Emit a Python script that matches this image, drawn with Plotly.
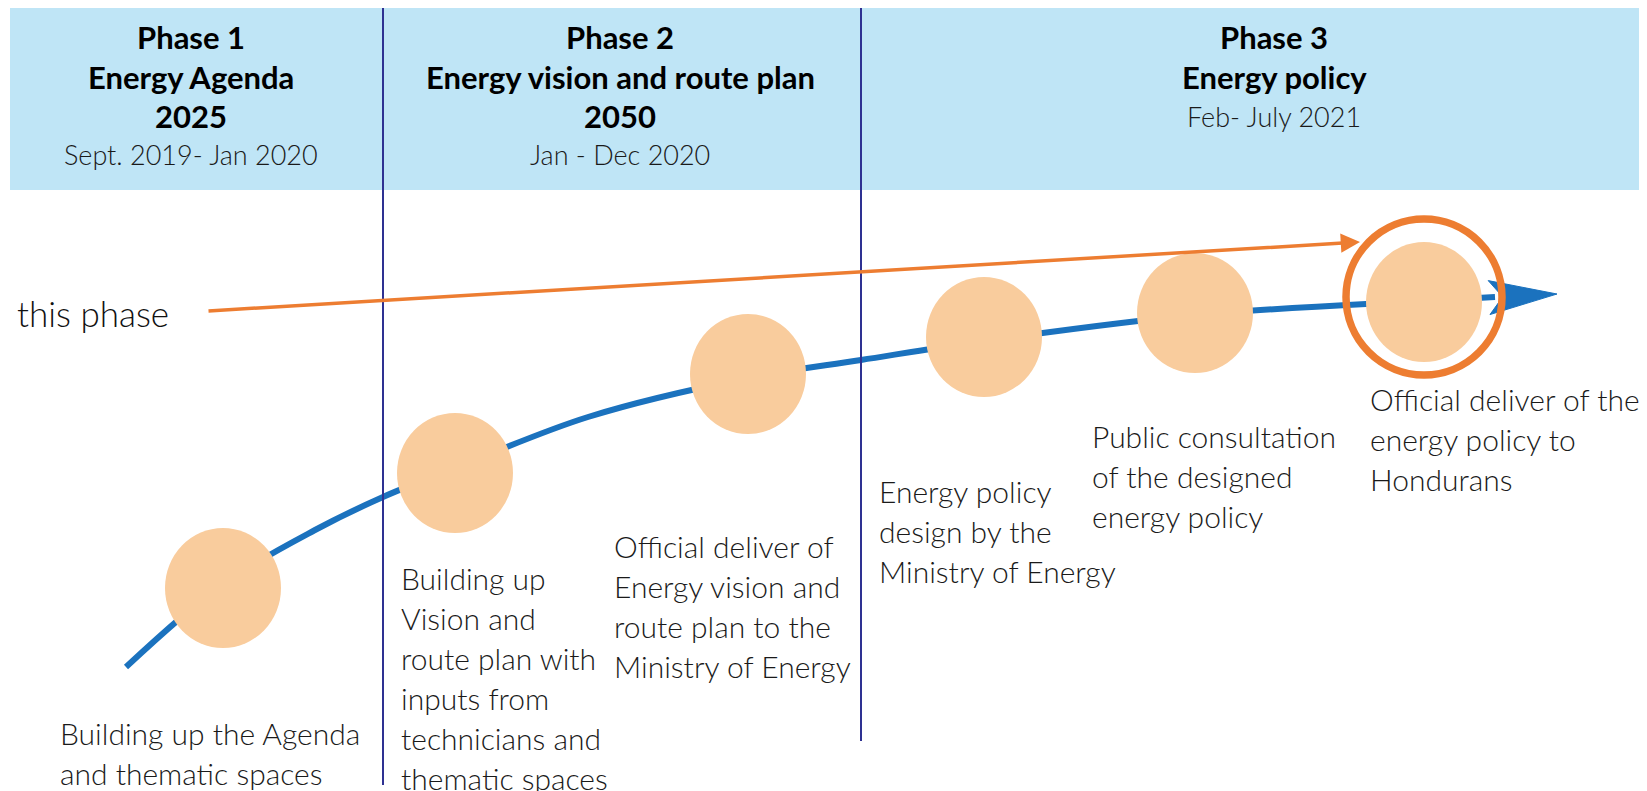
import numpy as np
import plotly.graph_objects as go

W, H = 1647, 791
OFF = 8  # page body margin in the browser

# ---------------- data ----------------
phase_titles = ["Phase 1", "Phase 2", "Phase 3"]
phase_names = [["Energy Agenda", "2025"], ["Energy vision and route plan", "2050"], ["Energy policy"]]
phase_dates = ["Sept. 2019- Jan 2020", "Jan - Dec 2020", "Feb- July 2021"]

milestone_labels = [
    "Building up the Agenda\nand thematic spaces",
    "Building up\nVision and\nroute plan with\ninputs from\ntechnicians and\nthematic spaces",
    "Official deliver of\nEnergy vision and\nroute plan to the\nMinistry of Energy",
    "Energy policy\ndesign by the\nMinistry of Energy",
    "Public consultation\nof the designed\nenergy policy",
    "Official deliver of the\nenergy policy to\nHondurans",
]
milestone_x = [223, 455, 748, 984, 1195, 1424]
milestone_y = [588, 473, 374, 337, 313, 302]
label_x = [58, 399, 612, 877, 1090, 1368]
label_y = [733, 578, 546, 491, 436, 399]

curve_x = [126, 223, 315, 383, 455, 588, 748, 861, 984, 1195, 1424, 1495]
curve_y = [667, 584, 530, 497, 468, 417, 378, 360, 341, 315, 301, 297]
curve_tip = (1557, 294)

current_phase_text = "this phase"
current_from = (207, 311)
current_to = (1360, 242)
current_index = 5

phase_dividers = [383, 861]
divider_ends = [785, 741]
header_x = [191, 620, 1274]

# ---------------- style ----------------
BAND = "#BFE5F6"
NAVY = "#2E3192"
BLUE = "#1B72BE"
ORANGE = "#ED7D31"
PEACH = "#F9CC9D"
FONT = "Lato"
RX, RY = 58, 60
RING_R = 78
RING_DY = -5
LINE_H = 40
HEAD_Y = [37, 77, 116, 154]

fig = go.Figure()

# header band
fig.add_shape(type="rect", x0=10, x1=W + OFF, y0=7, y1=190, fillcolor=BAND, line_width=0, layer="below")

# blue progress curve
fig.add_trace(go.Scatter(x=curve_x, y=curve_y, mode="lines",
                         line=dict(color=BLUE, width=6, shape="spline", smoothing=1.0),
                         hoverinfo="skip", showlegend=False))
# arrow head for blue curve (computed from the curve end)
tip = np.array(curve_tip, dtype=float)
d = tip - np.array([curve_x[-2], curve_y[-2]], dtype=float)
u = d / np.linalg.norm(d)
n = np.array([-u[1], u[0]])
L, Wd = 68, 17
pts = [tip, tip - L * u + Wd * n, tip - 0.8 * L * u, tip - L * u - Wd * n, tip]
fig.add_trace(go.Scatter(x=[p[0] for p in pts], y=[p[1] for p in pts], mode="lines",
                         fill="toself", fillcolor=BLUE, line=dict(color=BLUE, width=1),
                         hoverinfo="skip", showlegend=False))

# milestone circles
for cx, cy in zip(milestone_x, milestone_y):
    fig.add_shape(type="circle", x0=cx - RX, x1=cx + RX, y0=cy - RY, y1=cy + RY,
                  fillcolor=PEACH, line_width=0, layer="above")

# highlight ring
hx, hy = milestone_x[current_index], milestone_y[current_index] + RING_DY
fig.add_shape(type="circle", x0=hx - RING_R, x1=hx + RING_R, y0=hy - RING_R, y1=hy + RING_R,
              line=dict(color=ORANGE, width=7.5), fillcolor="rgba(0,0,0,0)", layer="above")

# phase dividers
for xv, ye in zip(phase_dividers, divider_ends):
    fig.add_shape(type="line", x0=xv, x1=xv, y0=7, y1=ye, line=dict(color=NAVY, width=2), layer="above")

# orange "you are here" arrow
fig.add_annotation(x=current_to[0], y=current_to[1], ax=current_from[0], ay=current_from[1],
                   xref="x", yref="y", axref="x", ayref="y", text="", showarrow=True,
                   arrowhead=2, arrowsize=1.1, arrowwidth=3.5, arrowcolor=ORANGE)
fig.add_annotation(x=171, y=current_from[1] + 2, text=current_phase_text, showarrow=False,
                   xanchor="right", yanchor="middle",
                   font=dict(family=FONT, size=35, color="#111111", weight=300))

# header texts
for i in range(3):
    lines = [phase_titles[i]] + phase_names[i]
    for j, t in enumerate(lines):
        fig.add_annotation(x=header_x[i], y=HEAD_Y[j], text=t, showarrow=False,
                           xanchor="center", yanchor="middle",
                           font=dict(family=FONT, size=31, color="#000000", weight=700))
    fig.add_annotation(x=header_x[i], y=HEAD_Y[len(lines)], text=phase_dates[i], showarrow=False,
                       xanchor="center", yanchor="middle",
                       font=dict(family=FONT, size=27, color="#1a1a1a", weight=300))

# milestone labels
for i, lab in enumerate(milestone_labels):
    for j, t in enumerate(lab.split("\n")):
        fig.add_annotation(x=label_x[i], y=label_y[i] + j * LINE_H, text=t, showarrow=False,
                           xanchor="left", yanchor="middle",
                           font=dict(family=FONT, size=30, color="#1a1a1a", weight=300))

fig.update_layout(width=W, height=H, margin=dict(l=0, r=0, t=0, b=0),
                  paper_bgcolor="white", plot_bgcolor="white", showlegend=False,
                  xaxis=dict(range=[OFF, W + OFF], visible=False, fixedrange=True),
                  yaxis=dict(range=[H + OFF, OFF], visible=False, fixedrange=True))

fig.write_html("out.html")
